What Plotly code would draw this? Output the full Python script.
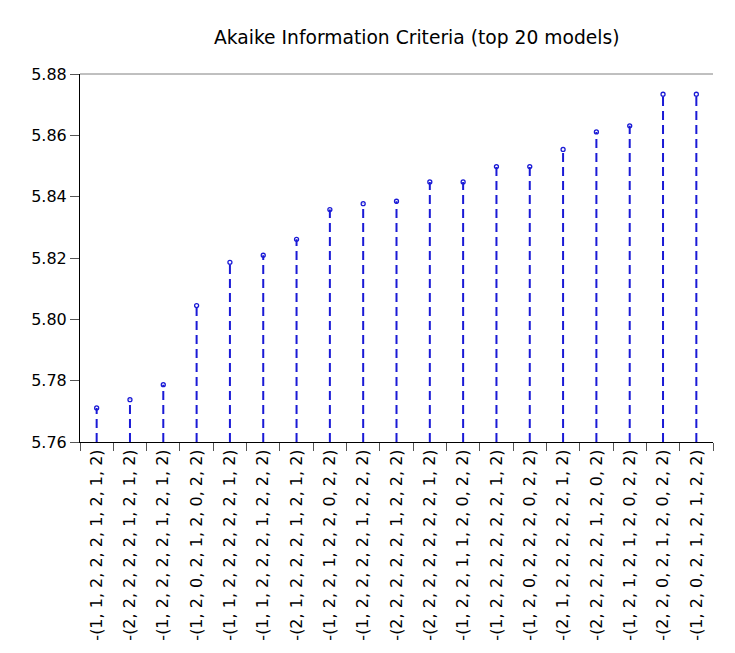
import plotly.graph_objects as go

title_text = "Akaike Information Criteria (top 20 models)"

models = [
    "(1, 1, 2, 2, 2, 1, 2, 1, 2)",
    "(2, 2, 2, 2, 2, 1, 2, 1, 2)",
    "(1, 2, 2, 2, 2, 1, 2, 1, 2)",
    "(1, 2, 0, 2, 1, 2, 0, 2, 2)",
    "(1, 1, 2, 2, 2, 2, 2, 1, 2)",
    "(1, 1, 2, 2, 2, 1, 2, 2, 2)",
    "(2, 1, 2, 2, 2, 1, 2, 1, 2)",
    "(1, 2, 2, 1, 2, 2, 0, 2, 2)",
    "(1, 2, 2, 2, 2, 1, 2, 2, 2)",
    "(2, 2, 2, 2, 2, 1, 2, 2, 2)",
    "(2, 2, 2, 2, 2, 2, 2, 1, 2)",
    "(1, 2, 2, 1, 1, 2, 0, 2, 2)",
    "(1, 2, 2, 2, 2, 2, 2, 1, 2)",
    "(1, 2, 0, 2, 2, 2, 0, 2, 2)",
    "(2, 1, 2, 2, 2, 2, 2, 1, 2)",
    "(2, 2, 2, 2, 2, 1, 2, 0, 2)",
    "(1, 2, 1, 2, 1, 2, 0, 2, 2)",
    "(2, 2, 0, 2, 1, 2, 0, 2, 2)",
    "(1, 2, 0, 2, 1, 2, 1, 2, 2)",
]
labels = ["-" + m for m in models]

aic = [5.7711, 5.7738, 5.7787, 5.8045, 5.8186, 5.8209, 5.8261, 5.8358, 5.8377,
       5.8385, 5.8448, 5.8448, 5.8498, 5.8498, 5.8554, 5.8611, 5.8631, 5.8734, 5.8734]

y_ticks = [5.76, 5.78, 5.80, 5.82, 5.84, 5.86, 5.88]
y_base = y_ticks[0]

FONT = "DejaVu Sans, Verdana, sans-serif"
BLUE = "#1a1ad6"

# stems as one broken line trace
sx, sy = [], []
for lab, v in zip(labels, aic):
    sx += [lab, lab, None]
    sy += [y_base, v, None]

fig = go.Figure()
fig.add_trace(go.Scatter(
    x=sx, y=sy, mode="lines",
    line=dict(color=BLUE, width=2, dash="9px,5px"),
    hoverinfo="skip", showlegend=False,
))
fig.add_trace(go.Scatter(
    x=labels, y=aic, mode="markers",
    marker=dict(symbol="circle-open", size=4, color=BLUE, line=dict(width=1.3, color=BLUE)),
    showlegend=False,
))

fig.update_layout(
    width=735, height=653,
    margin=dict(l=80, r=22, t=74, b=211),
    paper_bgcolor="white", plot_bgcolor="white",
    font=dict(family=FONT, size=16, color="black"),
    title=dict(text=title_text, x=0.532, xanchor="center", y=0.942, yanchor="middle",
               xref="paper", font=dict(family=FONT, size=18.7, color="black")),
    xaxis=dict(
        type="category", categoryorder="array", categoryarray=labels,
        range=[-0.5, len(labels) - 0.5],
        showline=True, linecolor="black", linewidth=1,
        ticks="outside", tickson="boundaries", ticklen=8, tickcolor="#555555",
        tickangle=-90, tickfont=dict(family=FONT, size=16),
        showgrid=False, zeroline=False,
    ),
    yaxis=dict(
        range=[y_ticks[0], y_ticks[-1]], tickvals=y_ticks, tickformat=".2f",
        showline=True, linecolor="black", linewidth=1,
        ticks="outside", ticklen=9, tickcolor="#555555",
        tickfont=dict(family=FONT, size=16),
        showgrid=False, zeroline=False,
    ),
    shapes=[dict(type="line", xref="paper", yref="paper", x0=0, x1=1, y0=1, y1=1,
                 line=dict(color="#808080", width=1))],
)

fig.write_html("out.html")
